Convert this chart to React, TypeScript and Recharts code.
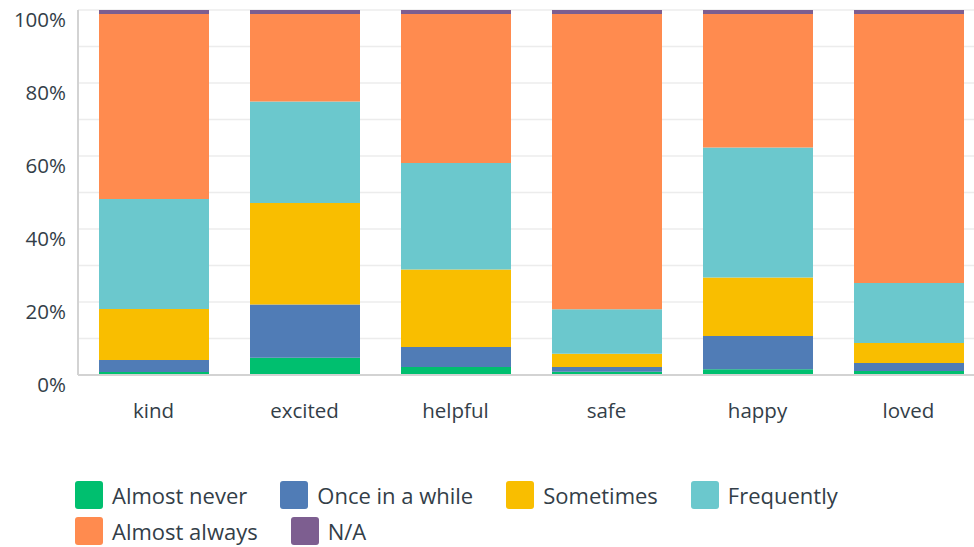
import { BarChart, Bar, XAxis, YAxis, CartesianGrid } from 'recharts';

const categories = ['kind', 'excited', 'helpful', 'safe', 'happy', 'loved'];

const seriesNames = ['Almost never', 'Once in a while', 'Sometimes', 'Frequently', 'Almost always', 'N/A'];
const seriesColors = ['#00bf6f', '#507cb6', '#f9be00', '#6bc8cd', '#ff8b4f', '#7d5e90'];

// percentages per category, same order as categories
const almostNever = [0.8, 4.7, 2.2, 0.9, 1.6, 1.1];
const onceInAWhile = [3.3, 14.6, 5.5, 1.3, 9.1, 2.2];
const sometimes = [14.0, 27.8, 21.2, 3.6, 16.0, 5.5];
const frequently = [30.1, 27.8, 29.2, 12.2, 35.6, 16.4];
const almostAlways = [50.7, 24.0, 40.8, 80.9, 36.6, 73.7];
const notApplicable = [1.1, 1.1, 1.1, 1.1, 1.1, 1.1];

const yTicks = [0, 10, 20, 30, 40, 50, 60, 70, 80, 90, 100];

const seriesValues = [almostNever, onceInAWhile, sometimes, frequently, almostAlways, notApplicable];
const keys = ['s0', 's1', 's2', 's3', 's4', 's5'];

const data = categories.map((name, i) => {
  const row: any = { name };
  keys.forEach((k, j) => { row[k] = seriesValues[j][i]; });
  return row;
});

const FONT = '"Open Sans", sans-serif';
const TEXT = '#333e48';

function YTick(props: any) {
  const { x, y, payload } = props;
  if (payload.value % 20 !== 0) return null;
  return (
    <text x={x - 4} y={y + 17} textAnchor="end" fill={TEXT} fontSize={20.5} fontFamily={FONT}>
      {payload.value + '%'}
    </text>
  );
}

function XTick(props: any) {
  const { x, y, payload } = props;
  return (
    <text x={x} y={y + 35} textAnchor="middle" fill={TEXT} fontSize={20.5} fontFamily={FONT}>
      {payload.value}
    </text>
  );
}

export default function App() {
  return (
    <div style={{ position: 'absolute', left: 0, top: 0, width: 974, height: 547, overflow: 'hidden', background: '#fff' }}>
      <BarChart width={990} height={547} data={data} margin={{ top: 10, right: 6, bottom: 0, left: 0 }}>
        <CartesianGrid vertical={false} stroke="#ececec" strokeWidth={1.5} />
        <XAxis
          dataKey="name"
          tickLine={false}
          axisLine={{ stroke: '#d3d3d3', strokeWidth: 2 }}
          tick={<XTick />}
          height={172}
          interval={0}
        />
        <YAxis
          domain={[0, 100]}
          ticks={yTicks}
          tickLine={false}
          axisLine={{ stroke: '#d3d3d3', strokeWidth: 2 }}
          tick={<YTick />}
          width={78}
          interval={0}
        />
        {keys.map((k, j) => (
          <Bar key={k} dataKey={k} stackId="a" fill={seriesColors[j]} barSize={110} isAnimationActive={false} />
        ))}
      </BarChart>
      <div
        style={{
          position: 'absolute', left: 75, top: 481, width: 860,
          display: 'flex', flexWrap: 'wrap', rowGap: 8,
          fontFamily: FONT, fontSize: 22, color: TEXT,
        }}
      >
        {seriesNames.map((n, j) => (
          <div key={n} style={{ display: 'flex', alignItems: 'center', marginRight: 33, height: 28 }}>
            <span style={{ width: 28, height: 28, borderRadius: 3, background: seriesColors[j], display: 'inline-block', marginRight: 9 }} />
            <span>{n}</span>
          </div>
        ))}
      </div>
    </div>
  );
}
